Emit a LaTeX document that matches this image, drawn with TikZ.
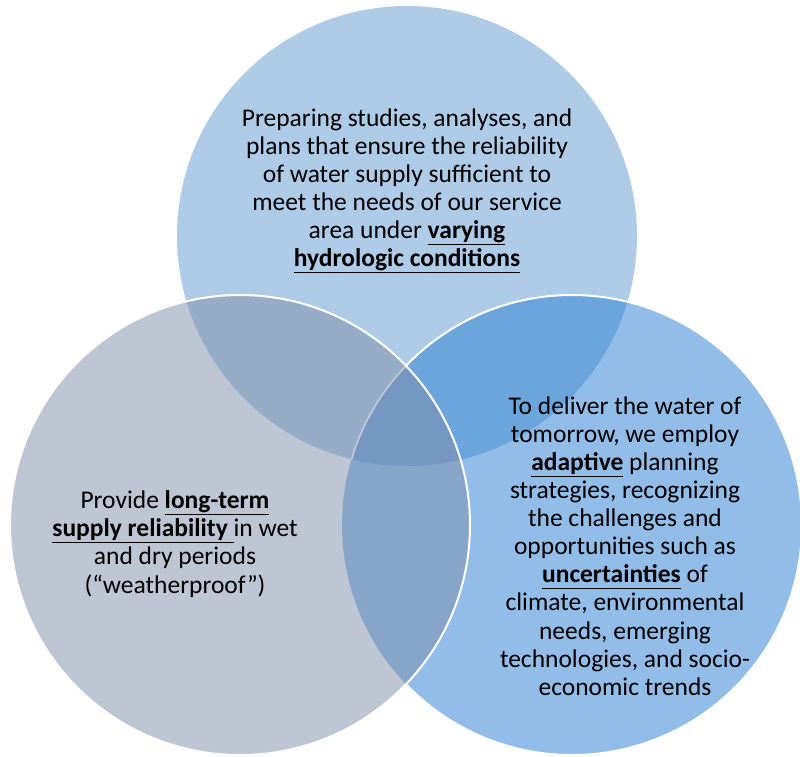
\documentclass[tikz,border=0pt]{standalone}
\usepackage{fontspec}
\setmainfont{Carlito}
\newcommand{\myul}[1]{\setbox0=\hbox{#1}\rlap{\rule[-6.5pt]{\wd0}{1.4pt}}\box0\relax}
\definecolor{cTop}{HTML}{AECCE7}
\definecolor{cLeft}{HTML}{BEC6D4}
\definecolor{cRight}{HTML}{92BDE8}
\definecolor{cTL}{HTML}{97ACC7}
\definecolor{cTR}{HTML}{6BA5DC}
\definecolor{cLR}{HTML}{87A5C9}
\definecolor{cAll}{HTML}{7597C2}
\definecolor{cFaint}{HTML}{C3CCDA}
\begin{document}
\begin{tikzpicture}[x=1pt,y=-1pt,
  txt/.style={align=center, font=\fontsize{25.5}{28.1}\selectfont, text=black, inner sep=0pt},
  rim/.style={white, line width=2pt}]
\useasboundingbox (0,0) rectangle (800,756);
\coordinate (ct) at (407,236);
\coordinate (cl) at (240,525);
\coordinate (cr) at (572,525);
% top and right circles
\fill[cTop] (ct) circle (230pt);
\fill[cRight] (cr) circle (230pt);
\begin{scope}
  \clip (ct) circle (230pt);
  \fill[cTR] (cr) circle (230pt);
\end{scope}
\draw[rim] (cr) circle (230pt);
% left circle and overlaps
\fill[cLeft] (cl) circle (230pt);
\begin{scope}
  \clip (cl) circle (230pt);
  \fill[cTL] (ct) circle (230pt);
  \fill[cLR] (cr) circle (230pt);
  \clip (ct) circle (230pt);
  \fill[cAll] (cr) circle (230pt);
\end{scope}
\begin{scope}
  \clip (cl) circle (230pt);
  \clip (ct) circle (230pt);
  \draw[cFaint, line width=1.5pt] (cr) circle (230pt);
\end{scope}
\draw[rim] (cl) circle (230pt);
% texts
\node[txt] (ttop) at (407,191) {Preparing studies, analyses, and\\
plans that ensure the reliability\\
of water supply sufficient to\\
meet the needs of our service\\
area under \myul{\textbf{varying}}\\
\myul{\textbf{hydrologic conditions}}};
\node[txt] (tleft) at (175,544) {Provide \myul{\textbf{long-term}}\\
\myul{\textbf{supply reliability}\ }in wet\\
and dry periods\\
(“weatherproof”)};
\node[txt] (tright) at (625,546) {To deliver the water of\\
tomorrow, we employ\\
\myul{\textbf{adaptive}} planning\\
strategies, recognizing\\
the challenges and\\
opportunities such as\\
\myul{\textbf{uncertainties}} of\\
climate, environmental\\
needs, emerging\\
technologies, and socio-\\
economic trends};
\end{tikzpicture}
\end{document}
